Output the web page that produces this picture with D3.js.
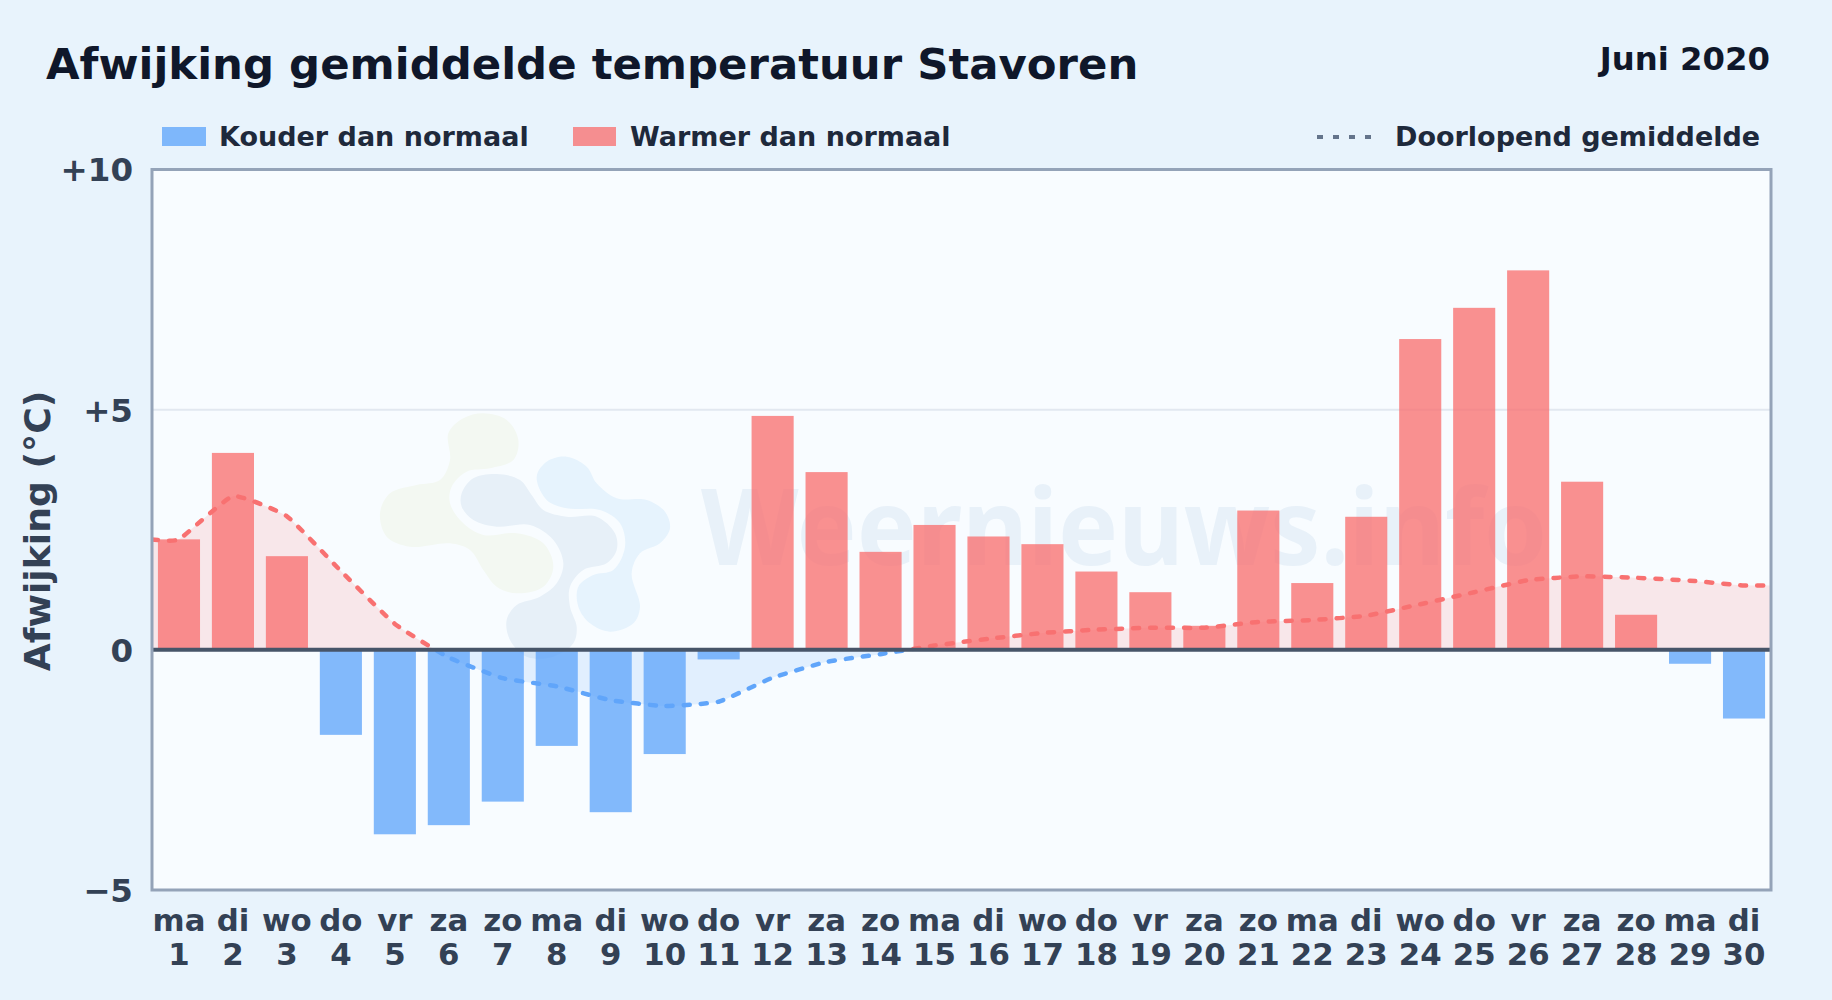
<!DOCTYPE html>
<html>
<head>
<meta charset="utf-8">
<script src="https://cdn.jsdelivr.net/npm/d3@7"></script>
<style>
html,body{margin:0;padding:0;background:#e8f3fc;}
svg{display:block;font-family:"DejaVu Sans",sans-serif;}
</style>
</head>
<body>
<svg id="chart" width="1832" height="1000"></svg>
<script>
const dayNames = ["ma","di","wo","do","vr","za","zo","ma","di","wo","do","vr","za","zo","ma","di","wo","do","vr","za","zo","ma","di","wo","do","vr","za","zo","ma","di"];
const days = d3.range(1, 31);
const deviation = [2.3,4.1,1.95,-1.77,-3.84,-3.65,-3.16,-2.0,-3.38,-2.17,-0.2,4.87,3.7,2.04,2.6,2.36,2.2,1.63,1.2,0.5,2.9,1.39,2.77,6.47,7.12,7.9,3.5,0.73,-0.29,-1.43];
const runningMean = [2.3,3.2,2.78,1.64,0.54,-0.16,-0.59,-0.76,-1.05,-1.17,-1.08,-0.58,-0.25,-0.09,0.09,0.23,0.35,0.42,0.46,0.46,0.58,0.62,0.71,0.95,1.2,1.45,1.53,1.5,1.44,1.34];
const yTicks = [-5,0,5,10];
const yLabels = ["\u22125","0","+5","+10"];

const colors = {
    title: "#0f172a", legend: "#1e293b", tick: "#334155",
    blue: "#60a5fa", red: "#f87171", border: "#94a3b8", zero: "#475569"
};

const marginLeft = 152, marginRight = 61, marginTop = 169.5, marginBottom = 110;
const width = 1832, height = 1000;
const svg = d3.select("#chart");

const xScale = d3.scaleBand().domain(days)
    .range([marginLeft, width - marginRight])
    .paddingInner(0.22).paddingOuter(0.11);
const yScale = d3.scaleLinear().domain([-5, 10])
    .range([height - marginBottom, marginTop]);
const zeroY = yScale(0);

// plot background + clips
svg.append("rect")
    .attr("x", marginLeft).attr("y", marginTop)
    .attr("width", width - marginLeft - marginRight)
    .attr("height", height - marginTop - marginBottom)
    .attr("fill", "#f8fcff");

const defs = svg.append("defs");
defs.append("clipPath").attr("id", "above").append("rect")
    .attr("x", marginLeft).attr("y", marginTop)
    .attr("width", width - marginLeft - marginRight)
    .attr("height", zeroY - marginTop);
defs.append("clipPath").attr("id", "below").append("rect")
    .attr("x", marginLeft).attr("y", zeroY)
    .attr("width", width - marginLeft - marginRight)
    .attr("height", height - marginBottom - zeroY);

// watermark logo, outlines
const blobGreen = [[325,100],[370,55],[430,40],[500,60],[535,120],[520,180],[450,205],[380,215],[335,260],[330,310],[370,370],[430,405],[530,400],[610,430],[640,500],[610,560],[530,580],[470,560],[430,510],[390,450],[330,430],[210,440],[140,410],[120,340],[150,280],[230,255],[300,240],[330,180]];
const blobGrey = [[365,280],[400,235],[470,222],[540,240],[575,285],[610,330],[680,350],[770,350],[825,400],[830,450],[800,490],[730,510],[690,560],[690,620],[710,680],[700,730],[640,770],[560,770],[510,720],[500,660],[530,615],[600,590],[650,550],[670,490],[640,420],[570,375],[470,380],[400,360],[365,320]];
const blobBlue = [[590,230],[620,185],[680,170],[740,200],[770,250],[830,295],[920,300],[975,335],[990,385],[960,430],[900,460],[875,520],[900,620],[880,670],[810,695],[750,670],[715,620],[715,560],[760,525],[820,510],[855,440],[840,370],[780,330],[680,325],[620,300]];
const blobLine = d3.line().x(d => 340 + d[0] / 3).y(d => 400 + d[1] / 3).curve(d3.curveCatmullRomClosed);
svg.append("path").attr("d", blobLine(blobGreen)).attr("fill", "#f3f8f2");
svg.append("path").attr("d", blobLine(blobGrey)).attr("fill", "#e7f0f8");
svg.append("path").attr("d", blobLine(blobBlue)).attr("fill", "#e6f3fd");
svg.append("text")
    .attr("x", 701).attr("y", 565)
    .attr("font-family", "Noto Sans")
    .attr("font-size", 105).attr("font-weight", 700)
    .attr("textLength", 846).attr("lengthAdjust", "spacingAndGlyphs")
    .attr("fill", "#e8f1f9")
    .text("Weernieuws.info");

// grid line at +5
svg.append("line")
    .attr("x1", marginLeft).attr("x2", width - marginRight)
    .attr("y1", yScale(5)).attr("y2", yScale(5))
    .attr("stroke", "#e2e8f0").attr("stroke-width", 2);

// running mean: the curve runs out flat to both plot edges
const centre = i => xScale(days[i]) + xScale.bandwidth() / 2;
const meanPoints = [[marginLeft, runningMean[0]]]
    .concat(runningMean.map((d, i) => [centre(i), d]))
    .concat([[width - marginRight, runningMean[runningMean.length - 1]]]);
const meanCurve = d3.curveCardinal.tension(0.6);
const area = d3.area().x(d => d[0]).y0(zeroY).y1(d => yScale(d[1])).curve(meanCurve);
const line = d3.line().x(d => d[0]).y(d => yScale(d[1])).curve(meanCurve);

[["above", colors.red], ["below", colors.blue]].forEach(([clip, col]) => {
    svg.append("path")
        .attr("d", area(meanPoints))
        .attr("clip-path", `url(#${clip})`)
        .attr("fill", col).attr("fill-opacity", 0.15);
});

// bars
svg.append("g").selectAll("rect")
    .data(deviation)
    .join("rect")
    .attr("x", (d, i) => xScale(days[i]))
    .attr("y", d => d >= 0 ? yScale(d) : zeroY)
    .attr("width", xScale.bandwidth())
    .attr("height", d => Math.abs(yScale(d) - zeroY))
    .attr("fill", d => d >= 0 ? colors.red : colors.blue)
    .attr("fill-opacity", 0.78);

[["above", colors.red], ["below", colors.blue]].forEach(([clip, col]) => {
    svg.append("path")
        .attr("d", line(meanPoints))
        .attr("clip-path", `url(#${clip})`)
        .attr("fill", "none")
        .attr("stroke", col).attr("stroke-width", 4.5)
        .attr("stroke-linecap", "round")
        .attr("stroke-dasharray", "6 11");
});

// zero line and frame
svg.append("line")
    .attr("x1", marginLeft).attr("x2", width - marginRight)
    .attr("y1", zeroY).attr("y2", zeroY)
    .attr("stroke", colors.zero).attr("stroke-width", 4);
svg.append("rect")
    .attr("x", marginLeft).attr("y", marginTop)
    .attr("width", width - marginLeft - marginRight)
    .attr("height", height - marginTop - marginBottom)
    .attr("fill", "none")
    .attr("stroke", colors.border).attr("stroke-width", 3);

// axes
const yAxis = svg.append("g")
    .attr("transform", `translate(${marginLeft},1)`)
    .call(d3.axisLeft(yScale).tickValues(yTicks).tickSize(0).tickPadding(19)
        .tickFormat((d, i) => yLabels[i]));
yAxis.select(".domain").remove();
yAxis.selectAll("text")
    .attr("font-family", "DejaVu Sans").attr("font-size", 32.5)
    .attr("font-weight", "bold").attr("fill", colors.tick);

const xAxis = svg.append("g")
    .attr("transform", `translate(0,${height - marginBottom})`)
    .call(d3.axisBottom(xScale).tickSize(0).tickFormat(""));
xAxis.select(".domain").remove();
xAxis.selectAll(".tick text").each(function(d, i) {
    const t = d3.select(this).attr("y", 0).attr("dy", null)
        .attr("font-family", "DejaVu Sans").attr("font-size", 30.8)
        .attr("font-weight", "bold").attr("fill", colors.tick);
    t.append("tspan").attr("x", 0).attr("y", 41).text(dayNames[i]);
    t.append("tspan").attr("x", 0).attr("y", 75).text(d);
});

svg.append("text")
    .attr("transform", "translate(50,531) rotate(-90)")
    .attr("text-anchor", "middle")
    .attr("font-size", 36.2).attr("font-weight", "bold")
    .attr("fill", colors.tick)
    .text("Afwijking (\u00b0C)");

// title
svg.append("text")
    .attr("x", 46).attr("y", 79)
    .attr("font-size", 43.4).attr("font-weight", "bold")
    .attr("fill", colors.title)
    .text("Afwijking gemiddelde temperatuur Stavoren");
svg.append("text")
    .attr("x", 1770).attr("y", 70)
    .attr("text-anchor", "end")
    .attr("font-size", 32.3).attr("font-weight", "bold")
    .attr("fill", colors.title)
    .text("Juni 2020");

// legend
const legend = svg.append("g").attr("font-size", 27).attr("font-weight", "bold").attr("fill", colors.legend);
legend.append("rect").attr("x", 162).attr("y", 127).attr("width", 44).attr("height", 19)
    .attr("fill", colors.blue).attr("fill-opacity", 0.78);
legend.append("text").attr("x", 219).attr("y", 146).text("Kouder dan normaal");
legend.append("rect").attr("x", 573).attr("y", 127).attr("width", 43).attr("height", 19)
    .attr("fill", colors.red).attr("fill-opacity", 0.78);
legend.append("text").attr("x", 630).attr("y", 146).text("Warmer dan normaal");
legend.append("line").attr("x1", 1317).attr("x2", 1376).attr("y1", 137).attr("y2", 137)
    .attr("stroke", "#64748b").attr("stroke-width", 4).attr("stroke-dasharray", "6 10");
legend.append("text").attr("x", 1395).attr("y", 146).text("Doorlopend gemiddelde");
</script>
</body>
</html>
